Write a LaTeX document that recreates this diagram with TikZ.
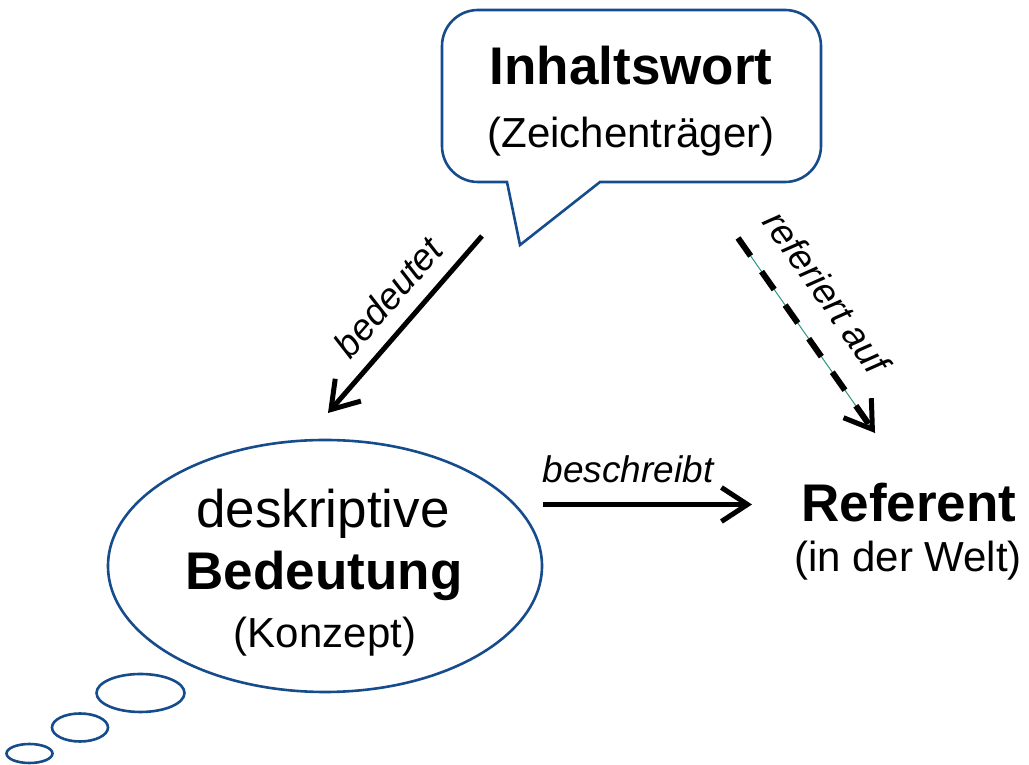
\documentclass[tikz,border=0pt]{standalone}
\usepackage{fontspec}
\setmainfont{Liberation Sans}
\usetikzlibrary{arrows.meta}
\definecolor{bubbleblue}{RGB}{22,76,140}
\definecolor{guideteal}{RGB}{40,150,130}
\begin{document}
\begin{tikzpicture}[x=1pt,y=1pt,
  outline/.style={draw=bubbleblue,line width=2.6pt,line join=miter},
  relarrow/.style={line width=5pt,-{Straight Barb[length=26pt,width=34pt,line width=5pt]}},
  biglabel/.style={font=\fontsize{53}{60}\selectfont,inner sep=0pt,anchor=base},
  smalllabel/.style={font=\fontsize{42}{48}\selectfont,inner sep=0pt,anchor=base},
  rellabel/.style={font=\fontsize{37}{42}\selectfont\itshape,inner sep=0pt}]
\useasboundingbox (0,0) rectangle (1029,765);

% speech bubble with tail
\draw[outline] (600,583) -- (785,583) arc[start angle=-90,end angle=0,radius=36]
  -- (821,719) arc[start angle=0,end angle=90,radius=36]
  -- (478,755) arc[start angle=90,end angle=180,radius=36]
  -- (442,619) arc[start angle=180,end angle=270,radius=36]
  -- (507,583) -- (520,520) -- cycle;
\node[biglabel,font=\fontsize{53}{60}\selectfont\bfseries] (wort) at (631,680) {Inhaltswort};
\node[smalllabel] (traeger) at (631,617) {(Zeichenträger)};

% thought bubble
\draw[outline] (325,199) ellipse[x radius=217,y radius=126];
\draw[outline] (140.5,72) ellipse[x radius=44,y radius=19];
\draw[outline] (80,37.5) ellipse[x radius=28,y radius=14];
\draw[outline] (29.5,11.5) ellipse[x radius=23,y radius=9.5];
\node[biglabel] (deskr) at (323,237) {deskriptive};
\node[biglabel,font=\fontsize{53}{60}\selectfont\bfseries] (bed) at (324,175) {Bedeutung};
\node[smalllabel] (konzept) at (325,117) {(Konzept)};

% referent
\node[biglabel,font=\fontsize{53}{60}\selectfont\bfseries] (ref) at (909,243) {Referent};
\node[smalllabel] (welt) at (908,193) {(in der Welt)};

% connector end points
\coordinate (bedA) at (482,529);
\coordinate (bedB) at (328,352);
\coordinate (beschA) at (543,260.5);
\coordinate (beschB) at (752,260.5);
\coordinate (refA) at (738,527);
\coordinate (refB) at (875,332);

\draw[relarrow] (bedA) -- (bedB);
\draw[relarrow] (beschA) -- (beschB);
\draw[guideteal,line width=1pt] (refA) -- (refB);
\draw[relarrow,line width=6pt,dash pattern=on 22pt off 19pt] (refA) -- (refB);

\node[rellabel,rotate=49] (lbed) at (388,468) {bedeutet};
\node[rellabel,anchor=base] (lbesch) at (628,282) {beschreibt};
\node[rellabel,rotate=-55] (lref) at (827,473) {referiert auf};
\end{tikzpicture}
\end{document}
